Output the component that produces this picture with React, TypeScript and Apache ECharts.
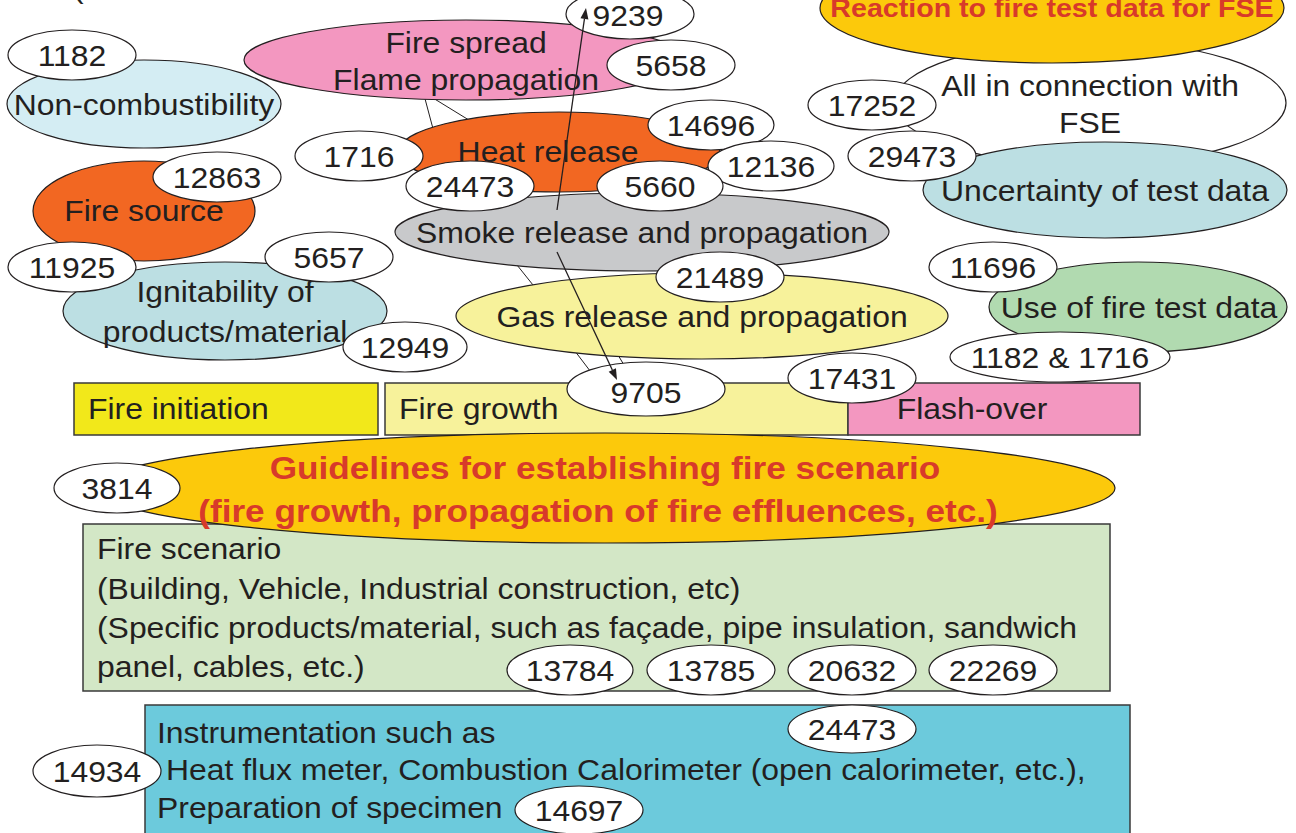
import React, { useEffect, useRef } from "react";
import * as echarts from "echarts";

// ---------- text content ----------
const headlineTop = ["Reaction to fire test data for FSE"];
const headlineGuide = [
  "Guidelines for establishing fire scenario",
  "(fire growth, propagation of fire effluences, etc.)",
];
const topicLabels: string[][] = [
  ["All in connection with", "FSE"],
  ["Non-combustibility"],
  ["Fire spread", "Flame propagation"],
  ["Heat release"],
  ["Fire source"],
  ["Smoke release and propagation"],
  ["Ignitability of", "products/material"],
  ["Gas release and propagation"],
  ["Uncertainty of test data"],
  ["Use of fire test data"],
];
const stageLabels = ["Fire initiation", "Fire growth", "Flash-over"];
const scenarioLines = [
  "Fire scenario",
  "(Building, Vehicle, Industrial construction, etc)",
  "(Specific products/material, such as façade, pipe insulation, sandwich",
  "panel, cables, etc.)",
];
const instrumentLines = [
  "Instrumentation such as",
  "Heat flux meter, Combustion Calorimeter (open calorimeter, etc.),",
  "Preparation of specimen",
];
const refNumbers = [
  "1182", "12863", "11925", "5657", "12949", "1716", "24473", "14696", "12136", "5660",
  "5658", "9239", "21489", "9705", "17431", "17252", "29473", "11696", "1182 & 1716",
  "3814", "13784", "13785", "20632", "22269", "24473", "14934", "14697",
];

// ---------- layout (positions / styles) ----------
const FONT = '"Liberation Sans", Arial, Helvetica, sans-serif';
const INK = "#231F20";
const RED = "#D83A2A";
const SX = 1.1;
const FS = 29;

const topicLayout = [
  { cx: 1090, cy: 103, rx: 196, ry: 62, fill: "#FFFFFF", tx: 1090, ty: [86, 123] },
  { cx: 144, cy: 104, rx: 137, ry: 44, fill: "#D4EDF3", tx: 144, ty: [105] },
  { cx: 466, cy: 60, rx: 222, ry: 40, fill: "#F397C0", tx: 466, ty: [43, 80] },
  { cx: 559, cy: 152, rx: 161, ry: 40, fill: "#F26722", tx: 548, ty: [152] },
  { cx: 144, cy: 211, rx: 111, ry: 50, fill: "#F26722", tx: 144, ty: [211] },
  { cx: 642, cy: 232, rx: 247, ry: 39, fill: "#C8C9CB", tx: 642, ty: [233] },
  { cx: 225, cy: 311, rx: 162, ry: 49, fill: "#BCDFE3", tx: 225, ty: [292, 332] },
  { cx: 702, cy: 316, rx: 246, ry: 43, fill: "#F7F29B", tx: 702, ty: [317] },
  { cx: 1105, cy: 190, rx: 182, ry: 48, fill: "#BCDFE3", tx: 1105, ty: [191] },
  { cx: 1138, cy: 307, rx: 149, ry: 45, fill: "#B1DAB0", tx: 1139, ty: [308] },
];
const refLayout = [
  [72, 55, 64, 25], [217, 177, 64, 25], [72, 267, 64, 25], [329, 257, 64, 25], [405, 347, 62, 25],
  [359, 156, 64, 25], [470, 186, 64, 25], [711, 125, 63, 25], [771, 166, 63, 25], [660, 186, 63, 25],
  [671, 65, 64, 25], [630, 14, 64, 25], [720, 277, 64, 25], [646, 389, 79, 27], [852, 378, 64, 25],
  [872, 105, 64, 25], [912, 156, 64, 25], [993, 267, 64, 25], [1060, 357, 110, 25],
  [117, 488, 63, 25], [570, 670, 63, 25], [711, 670, 64, 25], [852, 670, 64, 25], [993, 670, 64, 25],
  [852, 729, 64, 24], [97, 771, 64, 26], [579, 810, 64, 24],
];
const refTextShift: Record<number, [number, number]> = { 11: [-2, 2], 13: [0, 4] };
const stageLayout = [
  { x: 74, y: 383, w: 304, h: 52, fill: "#F2E81A", tx: 88, align: "left" },
  { x: 385, y: 383, w: 463, h: 52, fill: "#F7F29B", tx: 399, align: "left" },
  { x: 848, y: 383, w: 292, h: 52, fill: "#F397C0", tx: 972, align: "center" },
];
const bgLines = [
  [420, 80, 436, 140],
  [420, 90, 490, 133],
  [505, 250, 545, 300],
  [565, 338, 600, 384],
  [612, 345, 630, 375],
];
const arrows = [
  [557, 210, 586, 8],
  [557, 252, 617, 380],
];

function buildElements() {
  const el: any[] = [];
  const ellipse = (cx: number, cy: number, rx: number, ry: number, fill: string) =>
    el.push({ type: "ellipse", silent: true, shape: { cx, cy, rx, ry }, style: { fill, stroke: INK, lineWidth: 1.2 } });
  const rect = (x: number, y: number, w: number, h: number, fill: string) =>
    el.push({ type: "rect", silent: true, shape: { x, y, width: w, height: h }, style: { fill, stroke: "#3A3A3A", lineWidth: 1.5 } });
  const text = (t: string, x: number, y: number, o: any = {}) => {
    const size = o.size || FS;
    const align = o.align || "center";
    el.push({
      type: "text",
      silent: true,
      x,
      y,
      scaleX: SX,
      style: {
        text: t,
        font: `${o.bold ? "bold " : ""}${size}px ${FONT}`,
        fill: o.fill || INK,
        align,
        verticalAlign: "middle",
        textAlign: align,
        textVerticalAlign: "middle",
      },
    });
  };

  // stray glyph at top-left
  text("(", 73, -12, { align: "left" });

  // background connecting lines
  bgLines.forEach(([x1, y1, x2, y2]) =>
    el.push({ type: "line", silent: true, shape: { x1, y1, x2, y2 }, style: { stroke: INK, lineWidth: 1 } })
  );

  // "All in connection" ellipse first, then the gold headline over it
  const drawTopic = (i: number) => {
    const L = topicLayout[i];
    ellipse(L.cx, L.cy, L.rx, L.ry, L.fill);
    topicLabels[i].forEach((t, k) => text(t, L.tx, L.ty[k]));
  };
  drawTopic(0);
  ellipse(1052, 8, 232, 55, "#FCC90B");
  text(headlineTop[0], 1052, 8, { bold: true, size: 26, fill: RED });
  for (let i = 1; i < topicLayout.length; i++) drawTopic(i);

  // stage rectangles
  stageLayout.forEach((s, i) => {
    rect(s.x, s.y, s.w, s.h, s.fill);
    text(stageLabels[i], s.tx, 409, { align: s.align });
  });

  // fire scenario box
  rect(83, 524, 1027, 167, "#D3E7C6");
  const scenY = [549, 589, 628, 667];
  scenarioLines.forEach((t, k) => text(t, 97, scenY[k], { align: "left" }));

  // guidelines ellipse
  ellipse(605, 488, 510, 55, "#FCC90B");
  text(headlineGuide[0], 605, 468, { bold: true, size: 32, fill: RED });
  text(headlineGuide[1], 598, 511, { bold: true, size: 32, fill: RED });

  // instrumentation box
  rect(145, 705, 985, 150, "#6CCADC");
  const instX = [157, 166, 157];
  const instY = [733, 770, 808];
  instrumentLines.forEach((t, k) => text(t, instX[k], instY[k], { align: "left" }));

  // reference number ellipses
  refNumbers.forEach((n, i) => {
    const [cx, cy, rx, ry] = refLayout[i];
    ellipse(cx, cy, rx, ry, "#FFFFFF");
    const sh = refTextShift[i] || [0, 1];
    text(n, cx + sh[0], cy + sh[1]);
  });

  // arrows
  arrows.forEach(([x1, y1, x2, y2]) => {
    const a = Math.atan2(y2 - y1, x2 - x1);
    const L = 11, W = 4;
    const bx = x2 - L * Math.cos(a);
    const by = y2 - L * Math.sin(a);
    el.push({ type: "line", silent: true, shape: { x1, y1, x2: bx, y2: by }, style: { stroke: INK, lineWidth: 1.3 } });
    el.push({
      type: "polygon",
      silent: true,
      shape: {
        points: [
          [x2, y2],
          [bx + W * Math.sin(a), by - W * Math.cos(a)],
          [bx - W * Math.sin(a), by + W * Math.cos(a)],
        ],
      },
      style: { fill: INK },
    });
  });

  return el;
}

export default function App() {
  const ref = useRef<HTMLDivElement>(null);
  useEffect(() => {
    if (!ref.current) return;
    const chart = echarts.init(ref.current, null, { renderer: "svg" });
    chart.setOption({
      animation: false,
      backgroundColor: "#FFFFFF",
      graphic: { elements: buildElements() },
    });
    return () => chart.dispose();
  }, []);
  return (
    <div
      ref={ref}
      style={{ position: "fixed", left: 0, top: 0, width: 1296, height: 833, background: "#fff" }}
    />
  );
}
